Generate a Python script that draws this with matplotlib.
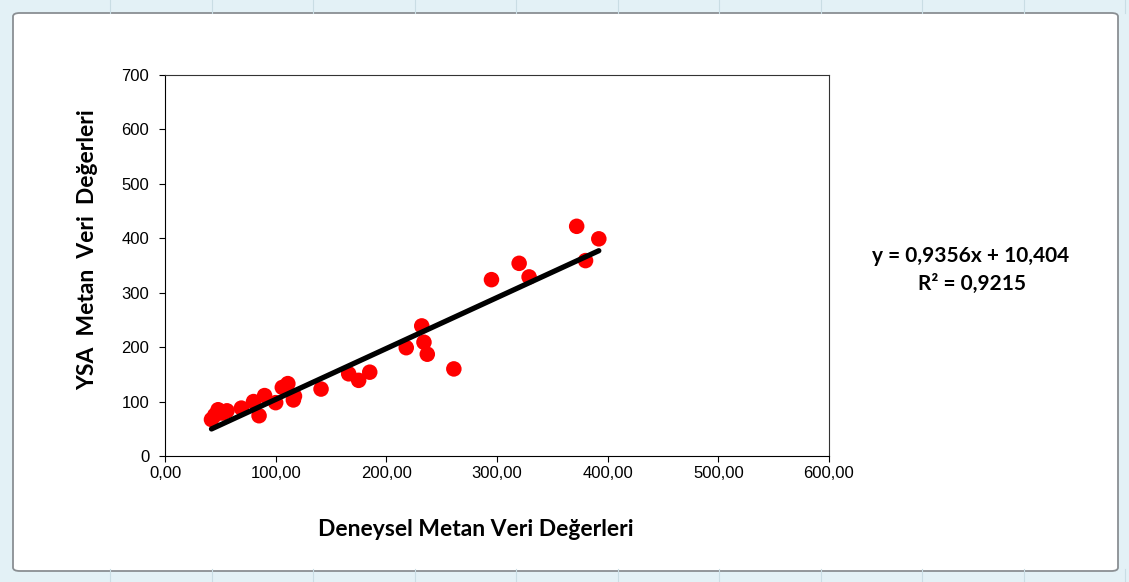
import numpy as np
import matplotlib.pyplot as plt
from matplotlib.patches import FancyBboxPatch

# measured vs. network-predicted methane values
deneysel = [42, 45, 48, 52, 56, 69, 80, 85, 90, 100, 106, 111, 116, 117,
            141, 166, 175, 185, 218, 232, 234, 237, 261, 295, 320, 329,
            372, 380, 392]
ysa = [67, 75, 85, 79, 83, 88, 100, 74, 111, 98, 126, 133, 103, 110,
       123, 151, 139, 154, 199, 239, 209, 187, 160, 324, 354, 329,
       422, 359, 399]

slope = 0.9356
intercept = 10.404
r2 = 0.9215

x_ticks = [0, 100, 200, 300, 400, 500, 600]
y_ticks = [0, 100, 200, 300, 400, 500, 600, 700]

W, H = 1129, 582
fig = plt.figure(figsize=(W / 100, H / 100), dpi=100)
fig.patch.set_facecolor('#e3f1f6')

# sheet cell borders peeking around the chart object
for cx in np.arange(110, W, 101.5):
    fig.add_artist(plt.Line2D([cx / W, cx / W], [0, 13 / H], color='#c9dde4', lw=0.8))
    fig.add_artist(plt.Line2D([cx / W, cx / W], [1 - 13 / H, 1], color='#c9dde4', lw=0.8))

# chart object frame
frame = FancyBboxPatch((13 / W, 11 / H), (1118 - 13) / W, (571 - 13) / H,
                       boxstyle='round,pad=0,rounding_size=0.006',
                       transform=fig.transFigure, facecolor='white',
                       edgecolor='#8a8f93', lw=1.3, zorder=0)
fig.add_artist(frame)

ax = fig.add_axes([165 / W, 1 - 456 / H, (829 - 165) / W, (456 - 75) / H])
ax.set_facecolor('white')
ax.set_xlim(0, 600)
ax.set_ylim(0, 700)

ax.scatter(deneysel, ysa, s=125, color='#ff0000', edgecolors='none', zorder=3)

xs = np.array([min(deneysel), max(deneysel)])
ax.plot(xs, slope * xs + intercept, color='black', lw=3.8,
        solid_capstyle='round', zorder=4)

ax.set_xticks(x_ticks)
ax.set_xticklabels([f'{v:.2f}'.replace('.', ',') for v in x_ticks])
ax.set_yticks(y_ticks)
ax.tick_params(direction='out', length=4.3, width=0.8, colors='black',
               labelsize=12)
ax.tick_params(axis='x', pad=3)
ax.tick_params(axis='y', pad=7)
for lab in ax.get_xticklabels() + ax.get_yticklabels():
    lab.set_family('Liberation Sans')

for sp in ax.spines.values():
    sp.set_color('#333333')
    sp.set_linewidth(0.8)
ax.spines['left'].set_color('black')
ax.spines['bottom'].set_color('black')

fig.text(476 / W, 1 - 529 / H, 'Deneysel Metan Veri Değerleri',
         ha='center', va='center', fontsize=16.5, fontweight='bold',
         family='Lato')
fig.text(88 / W, 1 - 250 / H, 'YSA  Metan  Veri  Değerleri',
         ha='center', va='center', rotation=90, fontsize=16.5,
         fontweight='bold', family='Lato')

eq = f'y = {slope:.4f}x + {intercept:.3f}'.replace('.', ',')
fig.text(971 / W, 1 - 256 / H, eq, ha='center', va='center',
         fontsize=15, fontweight='bold', family='Lato')
fig.text(972 / W, 1 - 284 / H, f'R² = {r2:.4f}'.replace('.', ','),
         ha='center', va='center', fontsize=15, fontweight='bold',
         family='Lato')

fig.savefig('out.png', dpi=100)
